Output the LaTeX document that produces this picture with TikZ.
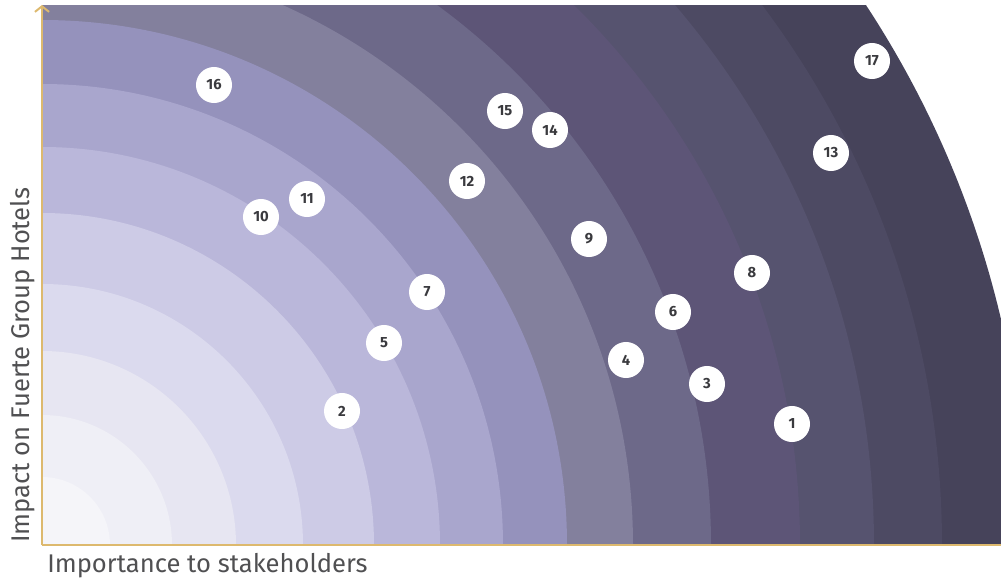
\documentclass[tikz,border=0pt]{standalone}
\usepackage{fontspec}
\setmainfont{Fira Sans}
\usepackage{xcolor}
\usetikzlibrary{arrows.meta}

\definecolor{axisgold}{HTML}{DDB96E}
\definecolor{labelgrey}{HTML}{505052}
\definecolor{numgrey}{HTML}{3A3A3E}
\definecolor{ringa}{HTML}{F5F5F9}
\definecolor{ringb}{HTML}{EFEFF6}
\definecolor{ringc}{HTML}{E7E6F2}
\definecolor{ringd}{HTML}{DBDAEE}
\definecolor{ringe}{HTML}{CDCBE6}
\definecolor{ringf}{HTML}{BAB7DA}
\definecolor{ringg}{HTML}{A9A6CD}
\definecolor{ringh}{HTML}{9592BC}
\definecolor{ringi}{HTML}{83809D}
\definecolor{ringj}{HTML}{6D6989}
\definecolor{ringk}{HTML}{5D5577}
\definecolor{ringl}{HTML}{56536F}
\definecolor{ringm}{HTML}{4D4A63}
\definecolor{ringn}{HTML}{46435A}

\tikzset{
    issue/.style={circle, fill=white, minimum size=0.9cm, inner sep=0pt,
        text=numgrey, font=\bfseries\fontsize{10.5}{12}\selectfont},
    axisline/.style={draw=axisgold, line width=1.4pt},
    axislabel/.style={text=labelgrey, inner sep=0pt, font=\fontsize{18.2}{21}\selectfont}
}

\begin{document}
\begin{tikzpicture}[x=0.025cm, y=0.025cm]
    \useasboundingbox (0,0) rectangle (1001,581);

    % Origin and axis ends
    \coordinate (origin) at (42,36);
    \coordinate (xend) at (1001,36);
    \coordinate (yend) at (42,576);

    % Draw rings, outermost first
    \begin{scope}
        \clip (origin) rectangle (1001,575);
        \foreach \r/\c in {985/ringn, 900/ringm, 832/ringl, 758/ringk, 669/ringj,
                           591/ringi, 525/ringh, 461/ringg, 398/ringf, 332/ringe,
                           261/ringd, 194/ringc, 130/ringb, 68/ringa}
            \fill[\c] (origin) circle (\r);
    \end{scope}

    % Draw axes
    \draw[axisline, -{Straight Barb[length=4pt, width=10pt]}] (origin) -- (yend);
    \draw[axisline] (origin) -- (xend);

    % Axis labels
    \node[axislabel, anchor=base west] (xlabel) at (47,9) {Importance to stakeholders};
    \node[axislabel, rotate=90, anchor=base west] (ylabel) at (29,38) {Impact on Fuerte Group Hotels};

    % Issues
    \foreach \n/\px/\py in {1/792/157, 2/342/170, 3/707/197, 4/626/221, 5/384/238,
                            6/673/269, 7/427/289, 8/752/308, 9/589/342, 10/261/364,
                            11/307/382, 12/467/400, 13/831/428, 14/550/451, 15/505/470,
                            16/214/496, 17/872/520}
        \node[issue] (i\n) at (\px,\py) {\n};
\end{tikzpicture}
\end{document}
